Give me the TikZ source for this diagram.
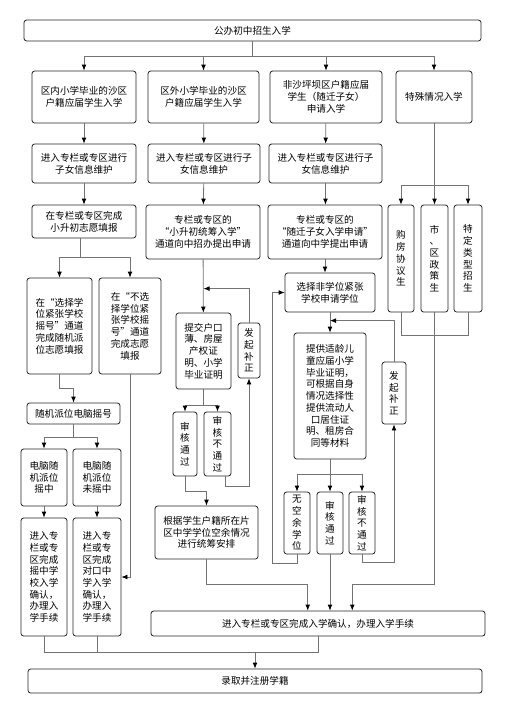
\documentclass[tikz,border=0pt]{standalone}
\usepackage{fontspec}
\newfontfamily\cjk{Noto Sans CJK SC}
\usetikzlibrary{arrows.meta}

\begin{document}
\begin{tikzpicture}[x=0.75pt, y=-0.75pt,
    box/.style={draw=black!85, line width=0.6pt, rounded corners=2pt, inner sep=0pt,
      align=center, font=\cjk\fontsize{7.2}{8.8}\selectfont},
    sz/.style 2 args={minimum width=#1*0.75pt, minimum height=#2*0.75pt},
    line/.style={draw=black!55, line width=0.6pt},
    arr/.style={line, -{Latex[length=4.5pt, width=3.6pt, color=black]}}]
    \useasboundingbox (0,0) rectangle (505,714);

    \node[box, sz={457}{21}] (top) at (252.5,30.5) {公办初中招生入学};
    \node[box, sz={104}{52}] (a1) at (84,97) {区内小学毕业的沙区\\户籍应届学生入学};
    \node[box, sz={111}{52}] (b1) at (203.5,97) {区外小学毕业的沙区\\户籍应届学生入学};
    \node[box, sz={112}{52}] (c1) at (326,97) {非沙坪坝区户籍应届\\学生（随迁子女）\\申请入学};
    \node[box, sz={76}{52}] (d1) at (434,97) {特殊情况入学};

    \node[box, sz={104}{39}] (a2) at (84,163.5) {进入专栏或专区进行\\子女信息维护};
    \node[box, sz={112}{39}] (b2) at (204,163.5) {进入专栏或专区进行子\\女信息维护};
    \node[box, sz={113}{39}] (c2) at (325.5,163.5) {进入专栏或专区进行子\\女信息维护};

    \node[box, sz={104}{33}] (a3) at (84,221.5) {在专栏或专区完成\\小升初志愿填报};
    \node[box, sz={114}{54}] (b3) at (203,232) {专栏或专区的\\“小升初统筹入学”\\通道向中招办提出申请};
    \node[box, sz={114}{54}] (c3) at (325,232) {专栏或专区的\\“随迁子女入学申请”\\通道向中学提出申请};
    \node[box, sz={26}{107}] (d21) at (401,258.5) {购\\房\\协\\议\\生};
    \node[box, sz={27}{107}] (d22) at (434.5,258.5) {市\\、\\区\\政\\策\\生};
    \node[box, sz={28}{107}] (d23) at (468,258.5) {特\\定\\类\\型\\招\\生};

    \node[box, sz={65}{96}] (a41) at (59.5,326) {在“选择学\\位紧张学校\\摇号”通道\\完成随机派\\位志愿填报};
    \node[box, sz={62}{96}] (a42) at (130,326) {在“不选\\择学位紧\\张学校摇\\号”通道\\完成志愿\\填报};
    \node[box, sz={93}{21}] (a5) at (73.5,413.5) {随机派位电脑摇号};
    \node[box, sz={46}{57}] (a61) at (44,477.5) {电脑随\\机派位\\摇中};
    \node[box, sz={48}{57}] (a62) at (97,477.5) {电脑随\\机派位\\未摇中};
    \node[box, sz={46}{118}] (a71) at (44,577) {进入专\\栏或专\\区完成\\摇中学\\校入学\\确认，\\办理入\\学手续};
    \node[box, sz={48}{118}] (a72) at (97,577) {进入专\\栏或专\\区完成\\对口中\\学入学\\确认，\\办理入\\学手续};

    \node[box, sz={55}{76}] (b4) at (203.5,351) {提交户口\\薄、房屋\\产权证\\明、小学\\毕业证明};
    \node[box, sz={22}{55}] (bfix) at (249,350.5) {发\\起\\补\\正};
    \node[box, sz={24}{64}] (b51) at (185,444) {审\\核\\通\\过};
    \node[box, sz={27}{64}] (b52) at (217.5,444) {审\\核\\不\\通\\过};
    \node[box, sz={103}{53}] (b6) at (206.5,532.5) {根据学生户籍所在片\\区中学学位空余情况\\进行统筹安排};

    \node[box, sz={90}{39}] (c4) at (330,292.5) {选择非学位紧张\\学校申请学位};
    \node[box, sz={72}{126}] (c5) at (330,396) {提供适龄儿\\童应届小学\\毕业证明，\\可根据自身\\情况选择性\\提供流动人\\口居住证\\明、租房合\\同等材料};
    \node[box, sz={24}{62}] (cfix) at (394,393) {发\\起\\补\\正};
    \node[box, sz={26}{62}] (c61) at (297,523) {无\\空\\余\\学\\位};
    \node[box, sz={26}{62}] (c62) at (330,523) {审\\核\\通\\过};
    \node[box, sz={26}{62}] (c63) at (362,523) {审\\核\\不\\通\\过};

    \node[box, sz={334}{25}] (e) at (318,623.5) {进入专栏或专区完成入学确认，办理入学手续};
    \node[box, sz={454}{24}] (f) at (255,681) {录取并注册学籍};

    % top split
    \draw[line] (top.south) -- ++(0,15) coordinate (tj);
    \foreach \n in {a1,b1,c1,d1}
      \draw[arr] (tj) -| (\n.north);
    \draw[arr] (a1) -- (a2);
    \draw[arr] (b1) -- (b2);
    \draw[arr] (c1) -- (c2);
    \draw[arr] (a2) -- (a3);
    \draw[arr] (b2) -- (b3);
    \draw[arr] (c2.south) -- (c2.south |- c3.north);
    \draw[line] (d1.south) -- ++(0,62) coordinate (dj);
    \foreach \n in {d21,d22,d23}
      \draw[arr] (dj) -| (\n.north);

    % left column
    \draw[line] ([xshift=-3pt]a3.south) -- ++(0,19) coordinate (aj);
    \draw[arr] (aj) -| (a41.north);
    \draw[arr] (aj) -| (a42.north);
    \draw[arr] (a41.south) -- ++(0,14) -| (a5.north);
    \draw[line] (a5.south) -- ++(0,13) coordinate (a5j);
    \draw[arr] (a5j) -| (a61.north);
    \draw[arr] (a5j) -| (a62.north);
    \draw[arr] (a61) -- (a71);
    \draw[arr] (a62) -- (a72);
    \draw[arr] (a42.south) |- (a72.east);

    % middle column
    \draw[arr] (b3) -- (b4);
    \draw[arr] (bfix.north) |- ([yshift=18pt]b4.north);
    \draw[line] (b4.south) -- ++(0,16) coordinate (b4j);
    \draw[arr] (b4j) -| (b51.north);
    \draw[arr] (b4j) -| (b52.north);
    \draw[arr] (b51.south) -- ++(0,15) -| (b6.north);
    \draw[arr] ([xshift=6pt]b52.south) -- ++(0,10) -| (bfix.south);
    \draw[arr] (b6.south) -- ++(0,25) -| ([xshift=-7.7pt]e.north);

    % right column
    \draw[arr] (c3.south) -- (c3.south |- c4.north);
    \draw[arr] (c4) -- (c5);
    \draw[arr] (cfix.north) |- ([yshift=9pt]c5.north);
    \draw[line] (c5.south) -- ++(0,15) coordinate (c5j);
    \foreach \n in {c61,c62,c63}
      \draw[arr] (c5j) -| (\n.north);
    \draw[arr] (c61.south) -- ++(0,9) -| ([xshift=-9pt]c4.west) -- (c4.west);
    \draw[arr] (c63.south) -- ++(0,8) -| (cfix.south);
    \draw[arr] (c62.south) -- (c62.south |- e.north);

    % special cases
    \draw[line] (d21.south) -- ++(0,23) -| (d23.south);
    \draw[arr] (d22.south) -- ++(0,272) -| ([xshift=25.7pt]e.north);

    % bottom merge
    \draw[line] (a71.south) -- ++(0,16) coordinate (fl) -| (e.south);
    \draw[line] (a72.south) -- (a72.south |- fl);
    \draw[arr] (fl -| f.north) -- (f.north);
\end{tikzpicture}
\end{document}
